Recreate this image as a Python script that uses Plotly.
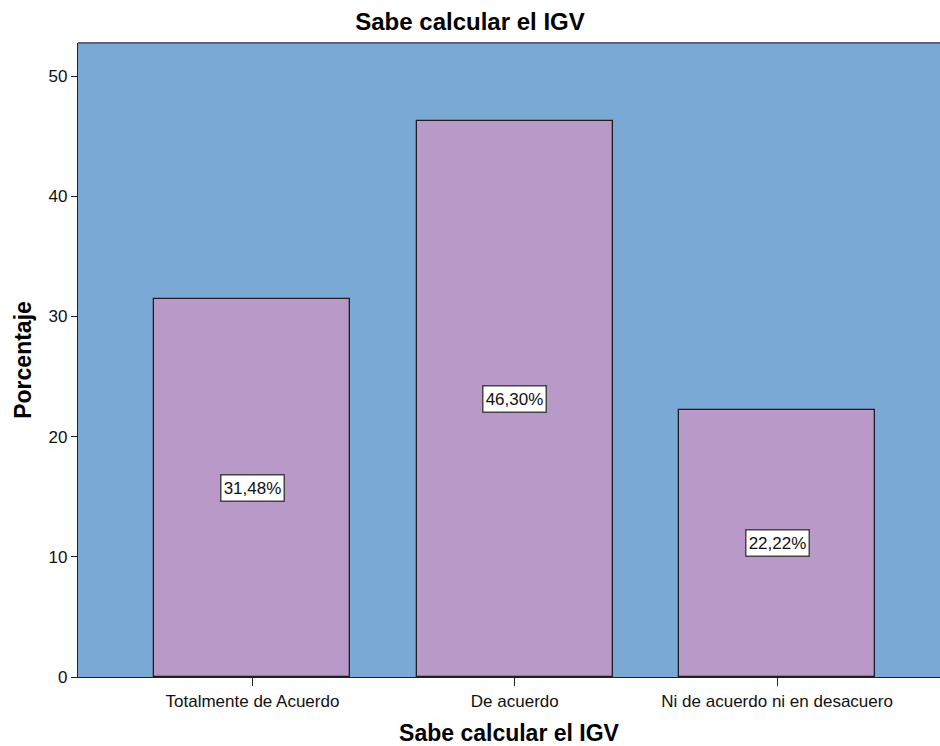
import plotly.graph_objects as go

categories = ["Totalmente de Acuerdo", "De acuerdo", "Ni de acuerdo ni en desacuero"]
percentages = [31.48, 46.30, 22.22]
y_ticks = [0, 10, 20, 30, 40, 50]
title_text = "Sabe calcular el IGV"
x_title = "Sabe calcular el IGV"
y_title = "Porcentaje"

FONT = "Arial, Liberation Sans, sans-serif"
x_pos = list(range(len(categories)))

fig = go.Figure()
fig.add_trace(go.Bar(
    x=x_pos, y=percentages, width=0.747,
    marker=dict(color="#b899c8", line=dict(color="#1e1e1e", width=1.3)),
    hoverinfo="skip",
))

for xi, v in zip(x_pos, percentages):
    fig.add_annotation(
        x=xi, y=v / 2, text=f"{v:.2f}%".replace(".", ","), showarrow=False,
        font=dict(family=FONT, size=17, color="#111111"),
        width=60, height=23,
        bgcolor="white", bordercolor="#444444", borderwidth=1.5, borderpad=1,
    )

fig.update_layout(
    width=940, height=746,
    margin=dict(l=78, r=0, t=43, b=69),
    paper_bgcolor="white", plot_bgcolor="#7aa9d5",
    showlegend=False,
    font=dict(family=FONT, size=17, color="#111111"),
    title=dict(text="<b>" + title_text + "</b>", x=0.5, xanchor="center",
               y=1 - 22 / 746, yanchor="middle", font=dict(size=24, family=FONT, color="#000000")),
    bargap=0,
)
fig.update_xaxes(
    range=[-0.665, 2.621], tickvals=x_pos, ticktext=categories,
    ticks="outside", ticklen=8, tickwidth=1.3, tickcolor="#222222",
    showline=True, linecolor="#222222", linewidth=1.3, mirror=False,
    showgrid=False, zeroline=False,
    tickfont=dict(size=17, family=FONT, color="#111111"),
    title=dict(text="<b>" + x_title + "</b>", font=dict(size=23, family=FONT, color="#000000"), standoff=15),
)
fig.update_yaxes(
    range=[0, 52.75], tickvals=y_ticks, ticktext=[str(t) for t in y_ticks],
    ticks="outside", ticklen=6, tickwidth=1.3, tickcolor="#222222",
    showline=True, linecolor="#222222", linewidth=1.3,
    showgrid=False, zeroline=False,
    tickfont=dict(size=17, family=FONT, color="#111111"),
    title=dict(text="<b>" + y_title + "</b>", font=dict(size=23, family=FONT, color="#000000"), standoff=10),
)
# top border of plot area
fig.add_shape(type="line", xref="paper", yref="paper", x0=0, x1=1, y0=1, y1=1,
              line=dict(color="#5a6578", width=2))

fig.write_html("out.html", config={"displayModeBar": False},
               post_script="document.body.style.margin='0';document.body.style.overflow='hidden';")
